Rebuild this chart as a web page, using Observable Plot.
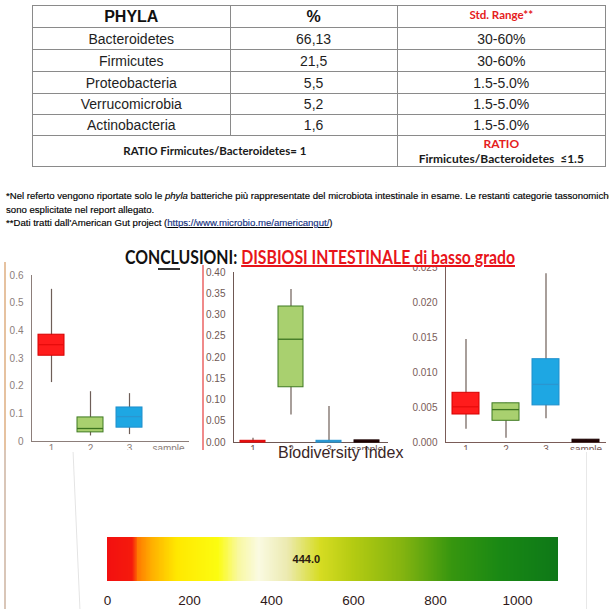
<!DOCTYPE html>
<html>
<head>
<meta charset="utf-8">
<script src="https://cdn.jsdelivr.net/npm/d3@7"></script>
<script src="https://cdn.jsdelivr.net/npm/@observablehq/plot@0.6"></script>
<style>
  html, body { margin: 0; padding: 0; background: #fff; }
  #root { position: relative; width: 609px; height: 609px; overflow: hidden; background: #fff; font-family: "Liberation Sans", Arial, sans-serif; }
  .abs { position: absolute; }
  table.phyla { position: absolute; left: 32px; top: 5px; width: 574px; height: 161px; border-collapse: collapse; border: 1.5px solid #777; }
  table.phyla td { border: 1px solid #8a8a8a; text-align: center; vertical-align: middle; padding: 0; font-size: 14px; color: #1e1e1e; line-height: 1; }
  .cal { font-family: Lato, "Liberation Sans", sans-serif; font-weight: bold; }
  .note { position: absolute; left: 6px; font-size: 9.6px; color: #000; white-space: nowrap; -webkit-text-stroke: 0.15px #000; }
</style>
</head>
<body>
<div id="root"></div>
<script>
// ---------- data ----------
const phyla = ["Bacteroidetes", "Firmicutes", "Proteobacteria", "Verrucomicrobia", "Actinobacteria"];
const percents = ["66,13", "21,5", "5,5", "5,2", "1,6"];
const stdRanges = ["30-60%", "30-60%", "1.5-5.0%", "1.5-5.0%", "1.5-5.0%"];
const headers = ["PHYLA", "%", "Std. Range**"];
const ratioText = "RATIO Firmicutes/Bacteroidetes= 1";
const ratioRangeTitle = "RATIO";
const ratioRangeText = "Firmicutes/Bacteroidetes  \u22641.5";

const noteLines = [
  ["*Nel referto vengono riportate solo le ", "phyla", " batteriche più rappresentate del microbiota intestinale in esame. Le restanti categorie tassonomiche"],
  ["sono esplicitate nel report allegato."],
  ["**Dati tratti dall'American Gut project (", "https://www.microbio.me/americangut/", ")"]
];
const headingBlack = "CONCLUSIONI: ";
const headingRed = "DISBIOSI INTESTINALE di basso grado";

const samples = ["1", "2", "3", "sample"];
const boxFill = ["#ff1c1c", "#a9d06f", "#1ea7e3", "#2a0a0a"];
const boxStroke = ["#d60000", "#3f7a22", "#1f8fcc", "#1a0000"];
const medStroke = ["#e80c0c", "#3c7420", "#2a96d0", "#1a0000"];

// chart A (0 - 0.6)
const aCats = ["1", "2", "3"];
const aLo  = [0.213, 0.020, 0.025];
const aQ1  = [0.310, 0.033, 0.050];
const aMed = [0.350, 0.047, 0.090];
const aQ3  = [0.386, 0.087, 0.123];
const aHi  = [0.550, 0.180, 0.173];
const aTicks = [0, 0.1, 0.2, 0.3, 0.4, 0.5, 0.6];

// chart B (0 - 0.40)
const bCats = ["1", "2", "3", "sample"];
const bLo  = [0.000, 0.065, 0.000, 0.000];
const bQ1  = [0.000, 0.130, 0.000, 0.000];
const bMed = [0.002, 0.243, 0.002, 0.002];
const bQ3  = [0.004, 0.320, 0.004, 0.005];
const bHi  = [0.010, 0.360, 0.085, 0.005];
const bTicks = [0, 0.05, 0.10, 0.15, 0.20, 0.25, 0.30, 0.35, 0.40];

// chart C (0 - 0.025)
const cCats = ["1", "2", "3", "sample"];
const cLo  = [0.0019, 0.0006, 0.0034, 0.0000];
const cQ1  = [0.0040, 0.0031, 0.0053, 0.0000];
const cMed = [0.0051, 0.0047, 0.0083, 0.0002];
const cQ3  = [0.0071, 0.0056, 0.0119, 0.0004];
const cHi  = [0.0147, 0.0056, 0.0241, 0.0004];
const cTicks = [0, 0.005, 0.010, 0.015, 0.020, 0.025];

// biodiversity gradient
const gradStops  = [0, 62, 75, 110, 170, 270, 320, 370, 440, 520, 600, 720, 840, 960, 1100];
const gradColors = ["#f21010", "#f51a0c", "#ff7a00", "#ffb000", "#ffe800", "#fcfc10", "#f8f8a0", "#fafae2", "#eceab0", "#d6dc22", "#b4cb12", "#84b410", "#37960f", "#198814", "#0e7818"];
const bioTicks = [0, 200, 400, 600, 800, 1000];
const bioValue = [444.0];
const bioTitle = "Biodiversity Index";

// ---------- page ----------
const root = document.getElementById("root");
function div(cls, style, html) {
  const d = document.createElement("div");
  if (cls) d.className = cls;
  Object.assign(d.style, style);
  if (html !== undefined) d.innerHTML = html;
  root.appendChild(d);
  return d;
}

// table
const tbl = document.createElement("table");
tbl.className = "phyla";
const colW = [198, 168, 208];
const rowH = [22, 22, 22, 22, 21, 21, 31];
let trh = tbl.insertRow();
trh.style.height = rowH[0] + "px";
headers.forEach((h, i) => {
  const td = trh.insertCell();
  td.style.width = colW[i] + "px";
  td.textContent = h;
  if (i < 2) { td.style.fontWeight = "bold"; td.style.fontSize = "16px"; td.style.color = "#111"; }
  else { td.className = "cal"; td.style.color = "#e5201c"; td.style.fontSize = "11.5px"; td.style.verticalAlign = "top"; td.style.paddingTop = "3px"; }
});
phyla.forEach((p, r) => {
  const tr = tbl.insertRow();
  tr.style.height = rowH[r + 1] + "px";
  [p, percents[r], stdRanges[r]].forEach(v => { const td = tr.insertCell(); td.textContent = v; });
});
const trr = tbl.insertRow();
trr.style.height = rowH[6] + "px";
const c1 = trr.insertCell(); c1.colSpan = 2; c1.className = "cal"; c1.style.fontSize = "11.5px"; c1.style.color = "#1a1a1a"; c1.textContent = ratioText;
const c2 = trr.insertCell(); c2.className = "cal"; c2.style.fontSize = "12px"; c2.style.lineHeight = "15px"; c2.style.color = "#1a1a1a";
c2.innerHTML = `<span style="color:#e5201c">${ratioRangeTitle}</span><br>${ratioRangeText.replace(/ /g, "&nbsp;")}`;
root.appendChild(tbl);

// footnotes
const noteTops = [190, 204, 217];
noteLines.forEach((parts, i) => {
  let html;
  if (i === 0) html = `${parts[0]}<i>${parts[1]}</i>${parts[2]}`;
  else if (i === 2) html = `${parts[0]}<span style="color:#1a3fb0;text-decoration:underline">${parts[1]}</span>${parts[2]}`;
  else html = parts[0];
  div("note", { top: noteTops[i] + "px" }, html);
});

// heading
const head = div("cal", { left: "125px", top: "246px", fontSize: "18px", color: "#111", whiteSpace: "nowrap", position: "absolute", transformOrigin: "0 0", fontWeight: "700" },
  `${headingBlack}<span style="color:#e8141a;text-decoration:underline;text-decoration-thickness:1.5px">${headingRed}</span>`);
const hw = head.getBoundingClientRect().width;
head.style.transform = `scaleX(${390 / hw})`;

// decorative page edges
div("abs", { left: "4px", top: "262px", width: "2px", height: "347px", background: "#e6c2a0" });
div("abs", { left: "202px", top: "265px", width: "1.5px", height: "185px", background: "#f08a8a" });
div("abs", { left: "158px", top: "268px", width: "22px", height: "1.5px", background: "#333" });

// box charts
function boxChart({cats, lo, q1, med, q3, hi, ticks, fmt, left, top, width, height, marginLeft, marginRight, y0, y1, domain, labelColor}) {
  const rows = cats.map((c, i) => ({cat: c, lo: lo[i], q1: q1[i], med: med[i], q3: q3[i], hi: hi[i],
    fill: boxFill[i], stroke: boxStroke[i], mstroke: medStroke[i]}));
  const p = Plot.plot({
    width, height,
    marginLeft, marginRight,
    marginTop: y1, marginBottom: height - y0,
    style: {fontFamily: "'Liberation Sans', Arial, sans-serif", fontSize: "10px", color: labelColor, background: "transparent"},
    x: {domain: samples, paddingInner: 0.33, paddingOuter: 0.165, tickSize: 0, tickPadding: 3, label: null, line: true},
    y: {domain, range: [y0, y1], ticks, tickFormat: fmt, tickSize: 0, tickPadding: 8, label: null, line: true},
    marks: [
      Plot.ruleX(rows, {x: "cat", y1: "lo", y2: "hi", stroke: "#6e5e58", strokeWidth: 1.2}),
      Plot.barY(rows, {x: "cat", y1: "q1", y2: "q3", fill: "fill", stroke: "stroke", strokeWidth: 1}),
      Plot.tickY(rows, {x: "cat", y: "med", stroke: "mstroke", strokeWidth: 1.3})
    ]
  });
  p.style.position = "absolute";
  p.style.left = left + "px";
  p.style.top = top + "px";
  root.appendChild(p);
  return p;
}

boxChart({cats: aCats, lo: aLo, q1: aQ1, med: aMed, q3: aQ3, hi: aHi, ticks: aTicks,
  fmt: d => d === 0 ? "0" : d3.format(".1f")(d), left: 0, top: 262, width: 200, height: 188,
  marginLeft: 31, marginRight: 12, y0: 179, y1: 13, domain: [0, 0.6], labelColor: "#8c7e7a"});
boxChart({cats: bCats, lo: bLo, q1: bQ1, med: bMed, q3: bQ3, hi: bHi, ticks: bTicks,
  fmt: d3.format(".2f"), left: 200, top: 262, width: 200, height: 188,
  marginLeft: 33, marginRight: 13, y0: 180, y1: 10, domain: [0, 0.4], labelColor: "#6f5854"});
boxChart({cats: cCats, lo: cLo, q1: cQ1, med: cMed, q3: cQ3, hi: cHi, ticks: cTicks,
  fmt: d3.format(".3f"), left: 400, top: 267, width: 209, height: 183,
  marginLeft: 45, marginRight: 4, y0: 175, y1: 0, domain: [0, 0.025], labelColor: "#7a5c58"});

// lower panel (white photo region)
div("abs", { left: "0px", top: "450px", width: "609px", height: "159px", background: "#fff" });
div("abs", { left: "4px", top: "450px", width: "2px", height: "159px", background: "#d9c6b8" });
div("abs", { left: "76px", top: "452px", width: "1px", height: "157px", background: "#e4e4e4", transform: "skewX(2.5deg)" });
div("abs", { left: "586px", top: "452px", width: "1px", height: "157px", background: "#e8e8e8" });
div("abs", { left: "278px", top: "444px", fontSize: "16px", color: "#3a2626", whiteSpace: "nowrap", fontFamily: "'Liberation Sans', Arial, sans-serif" }, bioTitle);

// gradient bar
const step = 2;
const cellsX = d3.range(gradStops[0], gradStops[gradStops.length - 1], step);
const bio = Plot.plot({
  width: 609, height: 159,
  marginLeft: 0, marginRight: 0, marginTop: 87, marginBottom: 28,
  style: {fontFamily: "'Liberation Sans', Arial, sans-serif", fontSize: "13.5px", color: "#2e1818", background: "transparent"},
  x: {domain: [0, 1100], range: [107, 558], ticks: bioTicks, tickFormat: d3.format("d"), tickSize: 0, tickPadding: 14, label: null},
  y: {domain: [0, 1], range: [131, 87], axis: null},
  color: {type: "linear", domain: gradStops, range: gradColors, interpolate: "rgb"},
  marks: [
    Plot.rectY(cellsX, {x1: d => d, x2: d => Math.min(d + step + 0.6, 1100), y1: 0, y2: 1, fill: d => d + step / 2, shapeRendering: "crispEdges"}),
    Plot.text(bioValue, {x: d => d, y: 0.5, text: d => d.toFixed(1), textAnchor: "start", dx: 3, fontSize: 11, fontWeight: "bold", fill: "#2a1a10"})
  ]
});
bio.style.position = "absolute";
bio.style.left = "0px";
bio.style.top = "450px";
root.appendChild(bio);
</script>
</body>
</html>
